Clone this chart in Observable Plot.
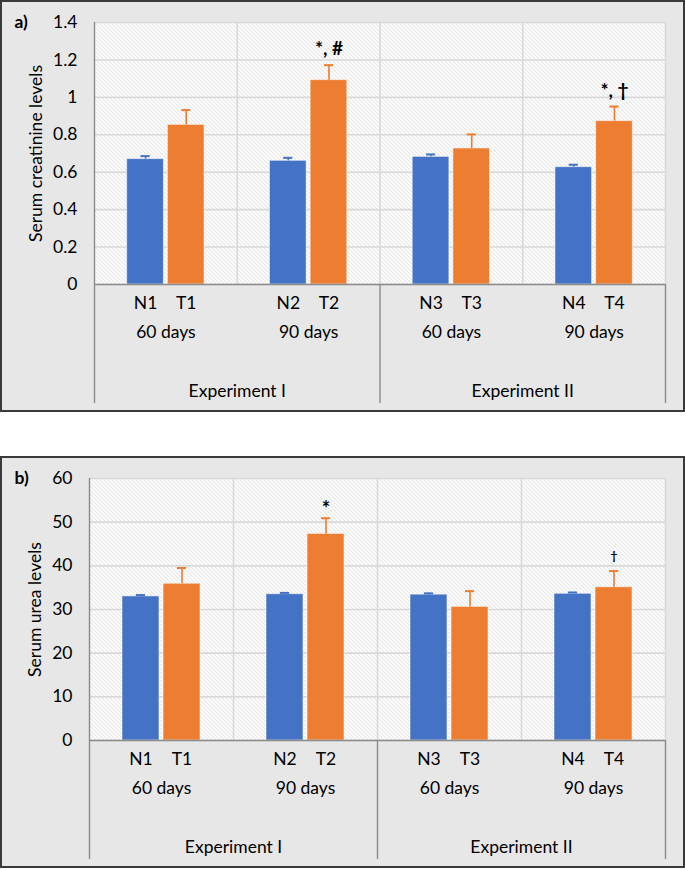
<!DOCTYPE html>
<html>
<head>
<meta charset="utf-8">
<script src="https://cdn.jsdelivr.net/npm/d3@7"></script>
<script src="https://cdn.jsdelivr.net/npm/@observablehq/plot@0.6"></script>
<style>
  body { margin: 0; background: #fff; font-family: Lato, "Open Sans", sans-serif; }
  .panel { position: absolute; left: 0; width: 681px; height: 408px; border: 2px solid #3a3a3a; background: #e7e7e7; }
  #pa { top: 0; }
  #pb { top: 456px; }
  .panel svg { display: block; }
</style>
</head>
<body>
<div id="pa" class="panel"></div>
<div id="pb" class="panel"></div>
<script>
// ---- data ----
const groupLabels = ["60 days", "90 days", "60 days", "90 days"];
const experimentLabels = ["Experiment I", "Experiment II"];
const controlLabels = ["N1", "N2", "N3", "N4"];
const treatedLabels = ["T1", "T2", "T3", "T4"];

const creatTicks = [0, 0.2, 0.4, 0.6, 0.8, 1, 1.2, 1.4];
const creatTickLabels = ["0", "0.2", "0.4", "0.6", "0.8", "1", "1.2", "1.4"];
const creatControl = [0.67, 0.661, 0.682, 0.627];
const creatControlErr = [0.016, 0.016, 0.013, 0.013];
const creatTreated = [0.853, 1.092, 0.727, 0.873];
const creatTreatedErr = [0.079, 0.080, 0.075, 0.078];
const creatSignif = ["", "*, #", "", "*, \u2020"];

const ureaTicks = [0, 10, 20, 30, 40, 50, 60];
const ureaTickLabels = ["0", "10", "20", "30", "40", "50", "60"];
const ureaControl = [33.0, 33.5, 33.4, 33.6];
const ureaControlErr = [0.3, 0.3, 0.3, 0.3];
const ureaTreated = [35.9, 47.3, 30.6, 35.1];
const ureaTreatedErr = [3.6, 3.6, 3.6, 3.7];
const ureaSignif = ["", "*", "", "\u2020"];

const BLUE = "#4472C4", ORANGE = "#ED7D31";
const GRID = "#d9d9d9", AXIS = "#8a8a8a";
const FS = 17.5;

function makePanel(cfg) {
  const rows = [];
  for (let g = 0; g < 4; g++) {
    rows.push({g, kind: "N", label: controlLabels[g], v: cfg.ctrl[g], e: cfg.ctrlErr[g], sig: ""});
    rows.push({g, kind: "T", label: treatedLabels[g], v: cfg.trt[g], e: cfg.trtErr[g], sig: cfg.signif[g]});
  }
  const off = 0.1425, half = 0.1285, cap = 0.032;
  const cx = d => d.g + 0.5 + (d.kind === "N" ? -off : off);
  const col = d => d.kind === "N" ? BLUE : ORANGE;
  const hatchId = "hatch-" + cfg.id;

  const sigMarks = cfg.sigStyles.map(s => Plot.text(rows.filter(d => s.match(d.sig)), {
    x: cx, y: d => d.v + d.e, text: "sig",
    dy: s.dy, fontSize: s.size, fontWeight: "bold", fill: "#000", lineAnchor: "middle"
  }));

  const svg = Plot.plot({
    width: 681,
    height: 408,
    marginTop: 20,
    marginBottom: 126,
    marginLeft: cfg.marginLeft,
    marginRight: 18,
    style: {background: "transparent", fontFamily: "Lato, 'Open Sans', sans-serif", fontSize: FS + "px", color: "#000", overflow: "visible"},
    x: {domain: [0, 4], axis: null},
    y: {
      domain: cfg.domain,
      ticks: cfg.ticks,
      tickFormat: d => cfg.tickLabels[cfg.ticks.indexOf(d)],
      tickSize: 0,
      tickPadding: 17,
      label: null
    },
    marks: [
      Plot.frame({fill: "url(#" + hatchId + ")", stroke: null}),
      Plot.ruleY(cfg.ticks, {stroke: GRID, strokeWidth: 1.6}),
      Plot.ruleX([1, 2, 3, 4], {stroke: GRID, strokeWidth: 1.6}),
      // bars
      Plot.rect(rows, {
        x1: d => cx(d) - half, x2: d => cx(d) + half,
        y1: () => 0, y2: "v",
        fill: col, stroke: "#ffffff", strokeOpacity: 0.55, strokeWidth: 1
      }),
      // error bars
      Plot.ruleX(rows, {x: cx, y1: "v", y2: d => d.v + d.e, stroke: col, strokeWidth: 1.6}),
      Plot.ruleY(rows, {y: d => d.v + d.e, x1: d => cx(d) - cap, x2: d => cx(d) + cap, stroke: col, strokeWidth: 2}),
      // axis lines and category separators
      Plot.ruleY([0], {stroke: AXIS, strokeWidth: 1.4}),
      Plot.ruleX([0], {stroke: AXIS, strokeWidth: 1.4, insetBottom: -119}),
      Plot.ruleX([2, 4], {y1: 0, y2: 0, stroke: AXIS, strokeWidth: 1.4, insetBottom: -119}),
      // significance marks
      ...sigMarks,
      // category labels
      Plot.text(rows, {x: cx, y: () => 0, text: "label", dy: 19, lineAnchor: "middle", fill: "#000", fontSize: FS}),
      Plot.text(groupLabels, {x: (d, i) => i + 0.5, y: () => 0, text: d => d, dy: 48, lineAnchor: "middle", fill: "#000", fontSize: FS}),
      Plot.text(experimentLabels, {x: (d, i) => 2 * i + 1, y: () => 0, text: d => d, dy: 107, lineAnchor: "middle", fill: "#000", fontSize: FS}),
      // y label
      Plot.text([cfg.ylabel], {text: d => d, frameAnchor: "left", rotate: -90, dx: cfg.ylabelDx, textAnchor: "middle", lineAnchor: "middle", fill: "#000", fontSize: FS}),
      // panel tag
      Plot.text([cfg.tag], {text: d => d, frameAnchor: "top-left", dx: cfg.tagDx, textAnchor: "start", lineAnchor: "middle", fontWeight: "bold", fill: "#000", fontSize: FS})
    ]
  });

  d3.select(svg).insert("defs", ":first-child").html(
    `<pattern id="${hatchId}" width="4" height="4" patternUnits="userSpaceOnUse">
       <rect width="4" height="4" fill="#ffffff"/>
       <path d="M0,0 L4,4 M-1,3 L1,5 M3,-1 L5,1" stroke="#d0d0d0" stroke-width="0.9"/>
     </pattern>`
  );
  document.getElementById(cfg.el).appendChild(svg);
}

makePanel({
  id: "a", el: "pa", tag: "a)", ylabel: "Serum creatinine levels",
  marginLeft: 92, domain: [0, 1.4], ticks: creatTicks, tickLabels: creatTickLabels,
  ctrl: creatControl, ctrlErr: creatControlErr, trt: creatTreated, trtErr: creatTreatedErr,
  signif: creatSignif,
  sigStyles: [{match: s => s !== "", dy: -16, size: 19}],
  ylabelDx: -58, tagDx: -80
});

makePanel({
  id: "b", el: "pb", tag: "b)", ylabel: "Serum urea levels",
  marginLeft: 87, domain: [0, 60], ticks: ureaTicks, tickLabels: ureaTickLabels,
  ctrl: ureaControl, ctrlErr: ureaControlErr, trt: ureaTreated, trtErr: ureaTreatedErr,
  signif: ureaSignif,
  sigStyles: [{match: s => s === "*", dy: -9, size: 20}, {match: s => s === "\u2020", dy: -15, size: 12}],
  ylabelDx: -54, tagDx: -75
});
</script>
</body>
</html>
